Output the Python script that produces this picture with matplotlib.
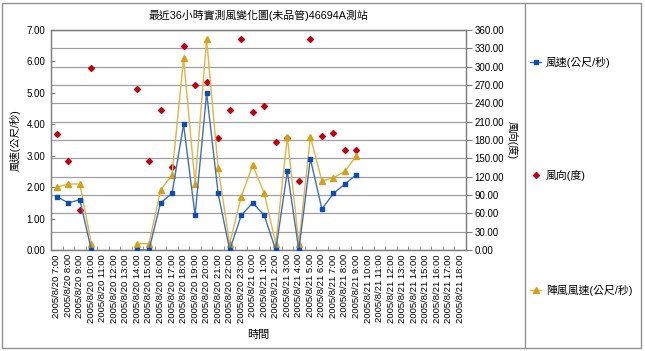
import numpy as np
import matplotlib
matplotlib.use('Agg')
from matplotlib import pyplot as plt
from matplotlib.lines import Line2D
from matplotlib.patches import Rectangle
from matplotlib.ticker import FormatStrFormatter, FixedLocator

plt.rcParams['font.family'] = ['Liberation Sans', 'Noto Sans CJK TC', 'DejaVu Sans']

nan = np.nan

# 時間標籤 (36 小時)
times = ['2005/8/20 %d:00' % h for h in range(7, 24)] + \
        ['2005/8/21 %d:00' % h for h in range(0, 19)]

# 風速 (公尺/秒)
speed = [1.7, 1.5, 1.6, 0.0, nan, nan, nan, 0.0, 0.0, 1.5, 1.8, 4.0, 1.1, 5.0,
         1.8, 0.0, 1.1, 1.5, 1.1, 0.0, 2.5, 0.0, 2.9, 1.3, 1.8, 2.1, 2.4] + [nan] * 9
# 風向 (度)
direction = [190, 146, 66, 297, nan, nan, nan, 264, 146, 229, 135, 334, 270, 275,
             184, 229, 345, 225, 236, 176, 183, 113, 345, 187, 192, 164, 164] + [nan] * 9
# 陣風風速 (公尺/秒)
gust = [2.0, 2.1, 2.1, 0.2, nan, nan, nan, 0.2, 0.2, 1.9, 2.4, 6.1, 2.1, 6.7,
        2.6, 0.2, 1.7, 2.7, 1.8, 0.2, 3.6, 0.2, 3.6, 2.2, 2.3, 2.5, 3.0] + [nan] * 9

blue_m, blue_l = '#0B4DB0', '#3C6FC4'
red = '#C00010'
gold_m, gold_l = '#D4A017', '#E2B440'
grid_c = '#A0A0A0'

fig = plt.figure(figsize=(6.45, 3.51), dpi=100)
ax = fig.add_axes([51/645, 1-250/351, 415/645, 220/351])
ax2 = ax.twinx()
ax2.set_zorder(0)
ax.set_zorder(1)
ax.patch.set_visible(False)

x = np.arange(len(times))

ax2.plot(x, direction, linestyle='none', marker='D', markersize=3.0,
         color=red, zorder=3)
ax.plot(x, speed, '-', color=blue_l, lw=1.0, marker='s', markersize=3.5,
        markerfacecolor=blue_m, markeredgecolor=blue_m, zorder=3)
ax.plot(x, gust, '-', color=gold_l, lw=1.0, marker='^', markersize=5,
        markerfacecolor=gold_m, markeredgecolor=gold_m, zorder=2)

ax.set_xlim(-0.5, len(times) - 0.5)
ax.set_ylim(0, 7)
ax2.set_ylim(0, 360)
ax.set_yticks(np.arange(0, 7.01, 1))
ax2.set_yticks(np.arange(0, 361, 30))
ax.yaxis.set_major_formatter(FormatStrFormatter('%.2f'))
ax2.yaxis.set_major_formatter(FormatStrFormatter('%.2f'))

ax2.grid(axis='y', color=grid_c, lw=0.9)
ax2.set_axisbelow(True)

ax.set_xticks(x)
ax.set_xticklabels(times, rotation=90, fontsize=6.8)
ax.xaxis.set_minor_locator(FixedLocator(np.arange(-0.5, len(times), 1)))
ax.tick_params(axis='x', which='major', length=0, pad=3)
ax.tick_params(axis='x', which='minor', direction='in', length=3, color='#808080')
ax.tick_params(axis='y', direction='in', length=3, color='#808080', labelsize=7, pad=4)
ax2.tick_params(axis='y', direction='out', length=4, color='#808080', labelsize=7, pad=2)

for a in (ax, ax2):
    for s in a.spines.values():
        s.set_color('#808080')
        s.set_linewidth(0.9)

ax.set_ylabel('風速(公尺/秒)', fontsize=7.5, labelpad=4)
ax2.set_ylabel('風向(度)', fontsize=7.5, rotation=-90, labelpad=10)
ax.set_xlabel('時間', fontsize=8, labelpad=5)
ax.set_title('最近36小時實測風變化圖(未品管)46694A測站', fontsize=7.8, pad=8)

# 外框與圖例區
fig.patches.append(Rectangle((2/645, 3/351), 639/645, 345/351, transform=fig.transFigure,
                             fill=False, edgecolor='#909090', lw=1.0))
fig.lines.append(Line2D([525/645, 525/645], [3/351, 348/351], transform=fig.transFigure,
                        color='#909090', lw=1.0))

legend_items = [
    ('風速(公尺/秒)', blue_l, blue_m, 's', 3.5, True, 62),
    ('風向(度)', red, red, 'D', 3.0, False, 175),
    ('陣風風速(公尺/秒)', gold_l, gold_m, '^', 5, True, 290),
]
for label, lc, mc, mk, ms, line, ypx in legend_items:
    yf = 1 - ypx / 351
    if line:
        fig.lines.append(Line2D([530/645, 541/645], [yf, yf], transform=fig.transFigure,
                                color=lc, lw=1.0))
    fig.lines.append(Line2D([535.5/645], [yf], transform=fig.transFigure, linestyle='none',
                            marker=mk, markersize=ms, color=mc))
    fig.text(546/645, yf, label, fontsize=7.8, va='center', ha='left')

fig.savefig('out.png', dpi=100)
